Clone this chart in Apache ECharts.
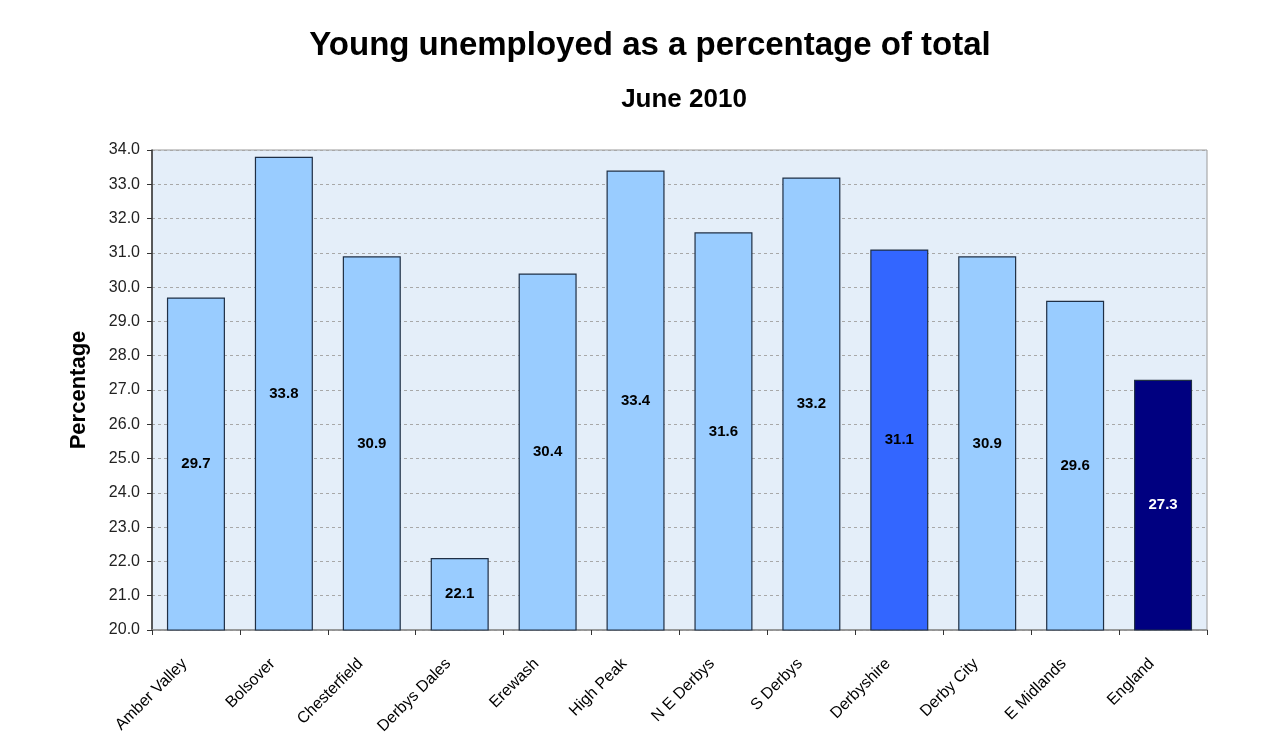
<!DOCTYPE html>
<html><head><meta charset="utf-8">
<script src="https://cdn.jsdelivr.net/npm/echarts@6/dist/echarts.min.js"></script>
<style>html,body{margin:0;padding:0;background:#fff}#c{width:1274px;height:748px}</style>
</head><body><div id="c"></div>
<script>
const categories = ["Amber Valley","Bolsover","Chesterfield","Derbys Dales","Erewash","High Peak","N E Derbys","S Derbys","Derbyshire","Derby City","E Midlands","England"];
const values = [29.7,33.8,30.9,22.1,30.4,33.4,31.6,33.2,31.1,30.9,29.6,27.3];
const barColors = ["#99CCFF","#99CCFF","#99CCFF","#99CCFF","#99CCFF","#99CCFF","#99CCFF","#99CCFF","#3366FF","#99CCFF","#99CCFF","#000080"];
const labelColors = ["#000","#000","#000","#000","#000","#000","#000","#000","#000","#000","#000","#fff"];

const chart = echarts.init(document.getElementById('c'));
const font = 'Liberation Sans, Arial, sans-serif';
chart.setOption({
  animation: false,
  backgroundColor: '#fff',
  title: [
    {text: 'Young unemployed as a percentage of total', left: 645, top: 24, textAlign: 'center',
     textStyle: {fontFamily: font, fontSize: 33, fontWeight: 'bold', color: '#000'}},
    {text: 'June 2010', left: 679, top: 82, textAlign: 'center',
     textStyle: {fontFamily: font, fontSize: 26, fontWeight: 'bold', color: '#000'}}
  ],
  grid: {left: 152, right: 67, top: 150, bottom: 118, show: true, backgroundColor: '#E4EEF9', borderColor: '#9a9a9a', borderWidth: 1},
  xAxis: {
    type: 'category', data: categories,
    axisLine: {lineStyle: {color: '#8a8a8a', width: 1.5}},
    axisTick: {show: true, alignWithLabel: false, length: 5, lineStyle: {color: '#333'}},
    axisLabel: {rotate: 45, color: '#000', fontFamily: font, fontSize: 16, margin: 20, padding: [0, 16, 0, 0], interval: 0}
  },
  yAxis: {
    type: 'value', min: 20, max: 34, interval: 1,
    name: 'Percentage', nameLocation: 'middle', nameGap: 62, nameRotate: 90,
    nameTextStyle: {fontFamily: font, fontSize: 22, fontWeight: 'bold', color: '#000'},
    axisLine: {show: true, lineStyle: {color: '#333', width: 1.5}},
    axisTick: {show: true, inside: false, length: 5, lineStyle: {color: '#333'}},
    axisLabel: {formatter: v => v.toFixed(1), color: '#222', fontFamily: font, fontSize: 16, margin: 12},
    splitLine: {show: true, lineStyle: {color: '#a8a8a8', type: [3, 3], width: 1}}
  },
  series: [{
    type: 'bar',
    data: values.map((v, i) => ({value: v, itemStyle: {color: barColors[i]},
      label: {color: labelColors[i]}})),
    barCategoryGap: '34%',
    itemStyle: {borderColor: '#1f2f45', borderWidth: 1.2},
    label: {show: true, position: 'inside', formatter: p => p.value.toFixed(1),
      fontFamily: font, fontSize: 15, fontWeight: 'bold'}
  }]
});
</script></body></html>
